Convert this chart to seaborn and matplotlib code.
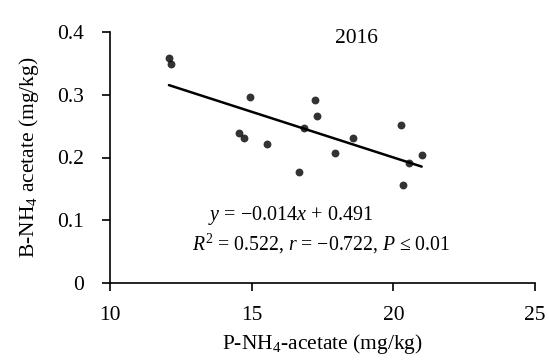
import numpy as np
import pandas as pd
import matplotlib
matplotlib.use("Agg")
import matplotlib.pyplot as plt
import seaborn as sns

# Data
p_nh4 = [12.08, 12.15, 14.93, 14.55, 14.73, 15.55, 16.68, 16.85, 17.24, 17.31,
         17.95, 18.58, 20.26, 20.34, 20.54, 21.00]
b_nh4 = [0.358, 0.349, 0.296, 0.239, 0.231, 0.222, 0.177, 0.247, 0.292, 0.266,
         0.207, 0.231, 0.251, 0.156, 0.192, 0.204]
x_ticks = [10, 15, 20, 25]
y_ticks = [0, 0.1, 0.2, 0.3, 0.4]
y_tick_labels = ["0", "0.1", "0.2", "0.3", "0.4"]

df = pd.DataFrame({"P": p_nh4, "B": b_nh4})

sns.set_theme(style="ticks")
plt.rcParams["font.family"] = ["Liberation Serif", "DejaVu Serif"]
plt.rcParams["mathtext.fontset"] = "custom"
plt.rcParams["mathtext.rm"] = "Liberation Serif"
plt.rcParams["mathtext.it"] = "Liberation Serif:italic"

fig = plt.figure(figsize=(5.49, 3.6), dpi=100)
ax = fig.add_axes([0.2004, 0.2139, 0.7741, 0.6972])

sns.regplot(data=df, x="P", y="B", ax=ax, ci=None, truncate=True,
            scatter_kws=dict(s=32, color="black", linewidths=0, zorder=3),
            line_kws=dict(color="black", linewidth=1.8))

ax.set_xlim(10, 25)
ax.set_ylim(0, 0.4)
ax.set_xticks(x_ticks)
ax.set_yticks(y_ticks)
ax.set_yticklabels(y_tick_labels)
ax.tick_params(axis="both", direction="out", length=5.5, width=1.2, colors="black",
               labelsize=15.5)
ax.tick_params(axis="y", pad=13)
ax.tick_params(axis="x", pad=11)
for s in ["top", "right"]:
    ax.spines[s].set_visible(False)
for s in ["left", "bottom"]:
    ax.spines[s].set_color("black")
    ax.spines[s].set_linewidth(1.2)

ax.set_xlabel("P-NH$_4$-acetate (mg/kg)", fontsize=15.5, color="black", labelpad=5)
ax.set_ylabel("B-NH$_4$ acetate (mg/kg)", fontsize=15.5, color="black", labelpad=12)

ax.text(0.58, 1.01, "2016", transform=ax.transAxes, ha="center", va="top",
        fontsize=15.5, color="black")
ax.text(0.424, 0.27, "$y$ = \u22120.014$x$ + 0.491", transform=ax.transAxes,
        ha="center", va="center", fontsize=14.5, color="black")
ax.text(0.496, 0.155, "$R^2$ = 0.522, $r$ = \u22120.722, $P$ \u2264 0.01",
        transform=ax.transAxes, ha="center", va="center", fontsize=14.2, color="black")

fig.savefig("out.png", dpi=100)
